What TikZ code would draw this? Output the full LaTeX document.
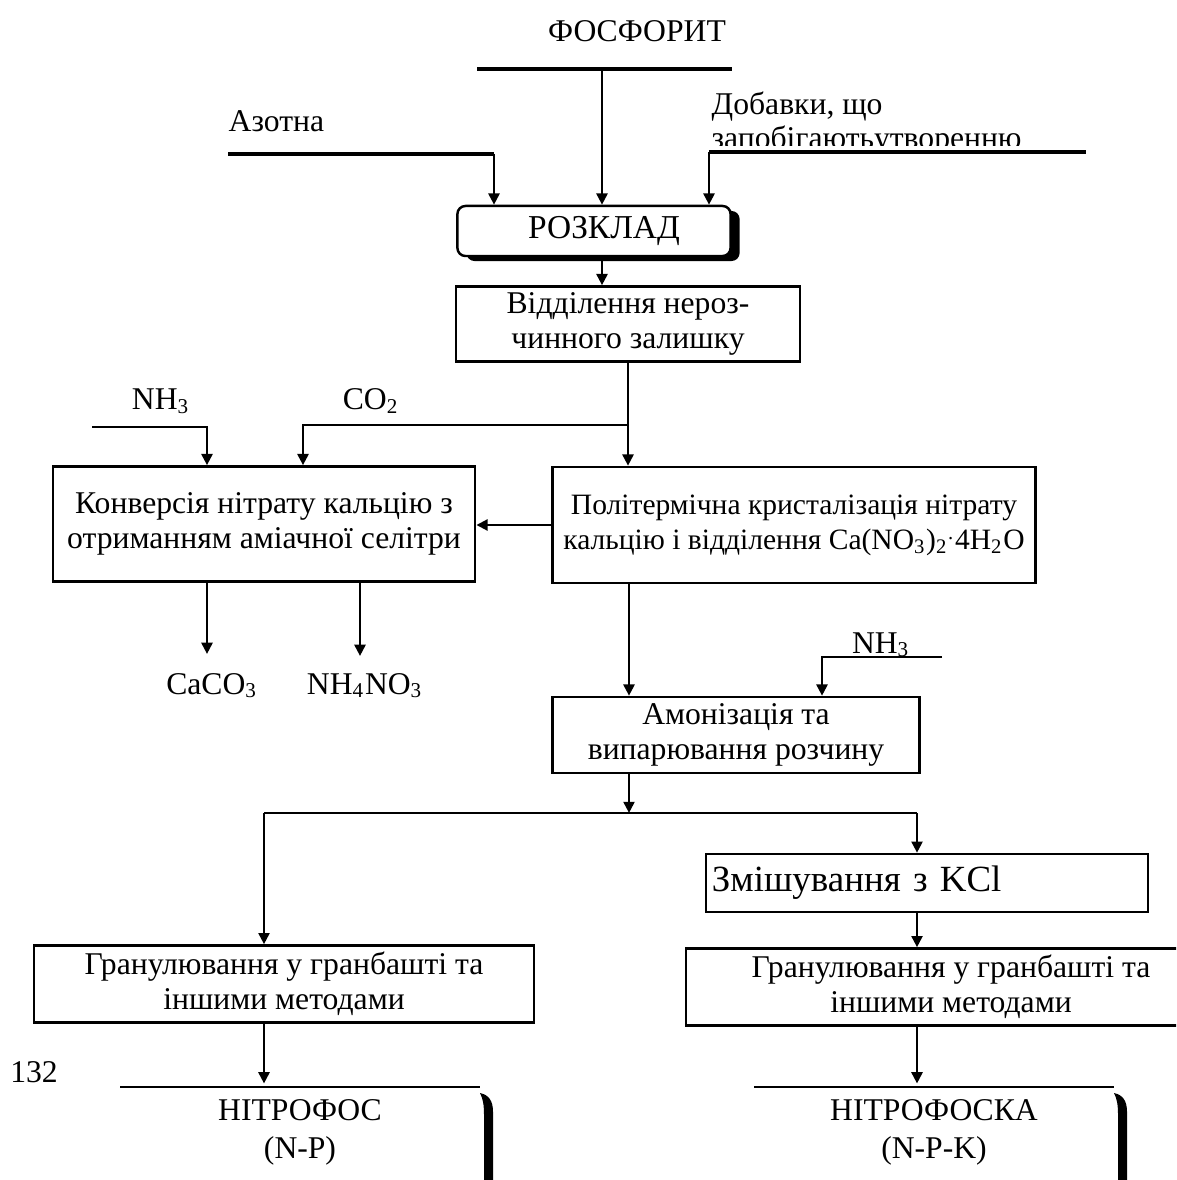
\documentclass[tikz,border=0pt]{standalone}
\usepackage{fontspec}
\setmainfont{Liberation Serif}
\usetikzlibrary{arrows.meta,shadows}
\tikzset{
  >={Triangle[length=3.2pt,width=3.1pt]},
  font=\fontsize{9}{10}\selectfont,
  box/.style={draw,line width=0.7pt,align=center,inner sep=0pt},
  proc/.style={box,rounded corners=0.08cm,fill=white,
               drop shadow={shadow xshift=0.09cm,shadow yshift=-0.05cm,opacity=1,fill=black}},
  flow/.style={->,line width=0.75pt},
  link/.style={line width=0.75pt},
  feed/.style={line width=1.4pt},
  lbl/.style={inner sep=0pt,anchor=base},
  brace/.style={fill=black},
}

\begin{document}
\begin{tikzpicture}[x=0.01cm,y=-0.01cm]
  \clip (0,0) rectangle (1176,1180);
  % raw materials
  \node[lbl] (fos) at (637,42) {ФОСФОРИТ};
  \node[lbl,anchor=base west] (azot) at (228,132) {Азотна};
  \node[lbl,anchor=base west] (dob1) at (711,115) {Добавки, що};
  \begin{scope}
    \clip (700,120) rectangle (1100,146);
    \node[lbl,anchor=base west] (dob2) at (711,149) {запобігаютьутворенню};
  \end{scope}
  \coordinate (fosl) at (477,69);  \coordinate (fosr) at (732,69);  \coordinate (fosin) at (602,69);
  \coordinate (azl) at (228,154);  \coordinate (azin) at (494,154);
  \coordinate (dobin) at (709,152); \coordinate (dobr) at (1086,152);

  % process steps
  \node[proc,minimum width=2.73cm,minimum height=0.5cm,font=\fontsize{9.5}{10}\selectfont] (rozklad) at (594,231) {\hspace*{0.2cm}РОЗКЛАД};
  \node[box,minimum width=3.44cm,minimum height=0.75cm] (vidd) at (628,324) {Відділення нероз-\\чинного залишку};
  \node[box,minimum width=4.22cm,minimum height=1.15cm] (konv) at (264,524) {Конверсія нітрату кальцію з\\отриманням аміачної селітри};
  \node[box,minimum width=4.83cm,minimum height=1.16cm,font=\fontsize{8.4}{10}\selectfont] (polit) at (794,525) {Політермічна кристалізація нітрату\\кальцію і відділення Ca(NO\textsubscript{3})\textsubscript{2}\textsuperscript{.}4H\textsubscript{2}O};
  \node[box,minimum width=3.67cm,minimum height=0.76cm] (amon) at (736,735) {Амонізація та\\випарювання розчину};
  \node[box,minimum width=4.42cm,minimum height=0.58cm,text width=4.3cm,align=left,
        font=\fontsize{10.5}{12}\selectfont] (zmish) at (927,883) {Змішування з KCl};
  \node[box,minimum width=5cm,minimum height=0.77cm] (granl) at (284,984) {Гранулювання у гранбашті та\\іншими методами};
  \node[box,minimum width=5.3cm,minimum height=0.77cm] (granr) at (951,987) {Гранулювання у гранбашті та\\іншими методами};

  % side streams
  \node[lbl] (nh3a) at (161,410) {NH\textsubscript{3}};
  \node[lbl] (co2) at (371,410) {CO\textsubscript{2}};
  \node[lbl] (caco3) at (212,694) {CaCO\textsubscript{3}};
  \node[lbl] (nh4no3) at (365,694) {NH\textsubscript{4}NO\textsubscript{3}};
  \node[lbl] (nh3b) at (881,653) {NH\textsubscript{3}};
  \coordinate (br1) at (628,425);  \coordinate (co2in) at (303,425);
  \coordinate (nh3l) at (92,427);  \coordinate (nh3in) at (207,427);
  \coordinate (nh3r) at (942,657); \coordinate (nh3bin) at (822,657);
  \coordinate (ca) at (207,654);   \coordinate (nh4) at (360,656);
  \coordinate (jn) at (629,813);   \coordinate (jl) at (264,813);   \coordinate (jr) at (917,813);

  % products
  \node[lbl] (nfos) at (300,1120) {НІТРОФОС};
  \node[lbl] (np) at (300,1158) {(N-P)};
  \node[lbl] (nfoska) at (934,1120) {НІТРОФОСКА};
  \node[lbl] (npk) at (934,1158) {(N-P-K)};
  \node[lbl] (page) at (34,1082) {132};
  \coordinate (npl) at (120,1087);  \coordinate (npr) at (480,1087);
  \coordinate (npkl) at (754,1087); \coordinate (npkr) at (1114,1087);

  \draw[feed] (fosl) -- (fosr);
  \draw[flow] (fosin) -- (fosin |- rozklad.north);
  \draw[feed] (azl) -- (azin);
  \draw[flow] (azin) -- (azin |- rozklad.north);
  \draw[feed] (dobin) -- (dobr);
  \draw[flow] (dobin) -- (dobin |- rozklad.north);
  \draw[flow] (fosin |- rozklad.south) -- (fosin |- vidd.north);
  \draw[flow] (vidd.south) -- (vidd.south |- polit.north);
  \draw[flow] (br1) -- (co2in) -- (co2in |- konv.north);
  \draw[flow] (nh3l) -- (nh3in) -- (nh3in |- konv.north);
  \draw[flow] (polit.west) -- (polit.west -| konv.east);
  \draw[flow] (konv.south -| ca) -- (ca);
  \draw[flow] (konv.south -| nh4) -- (nh4);
  \draw[flow] (polit.south -| jn) -- (jn |- amon.north);
  \draw[flow] (nh3r) -- (nh3bin) -- (nh3bin |- amon.north);
  \draw[flow] (amon.south -| jn) -- (jn);
  \draw[link] (jl) -- (jr);
  \draw[flow] (jl) -- (jl |- granl.north);
  \draw[flow] (jr) -- (jr |- zmish.north);
  \draw[flow] (zmish.south -| jr) -- (jr |- granr.north);
  \draw[link] (npl) -- (npr);
  \draw[link] (npkl) -- (npkr);
  \draw[flow,shorten >=1pt] (granl.south -| jl) -- (jl |- npl);
  \draw[flow,shorten >=1pt] (granr.south -| jr) -- (jr |- npkl);
  \fill[brace,shift={(480,1093)}] (0,0) .. controls (9,2) and (13,8) .. (13,19) -- (13,95) -- (4,95) -- (4,22) .. controls (4,12) and (3,6) .. (0,0) -- cycle;
  \fill[brace,shift={(1114,1093)}] (0,0) .. controls (9,2) and (13,8) .. (13,19) -- (13,95) -- (4,95) -- (4,22) .. controls (4,12) and (3,6) .. (0,0) -- cycle;
\end{tikzpicture}
\end{document}
